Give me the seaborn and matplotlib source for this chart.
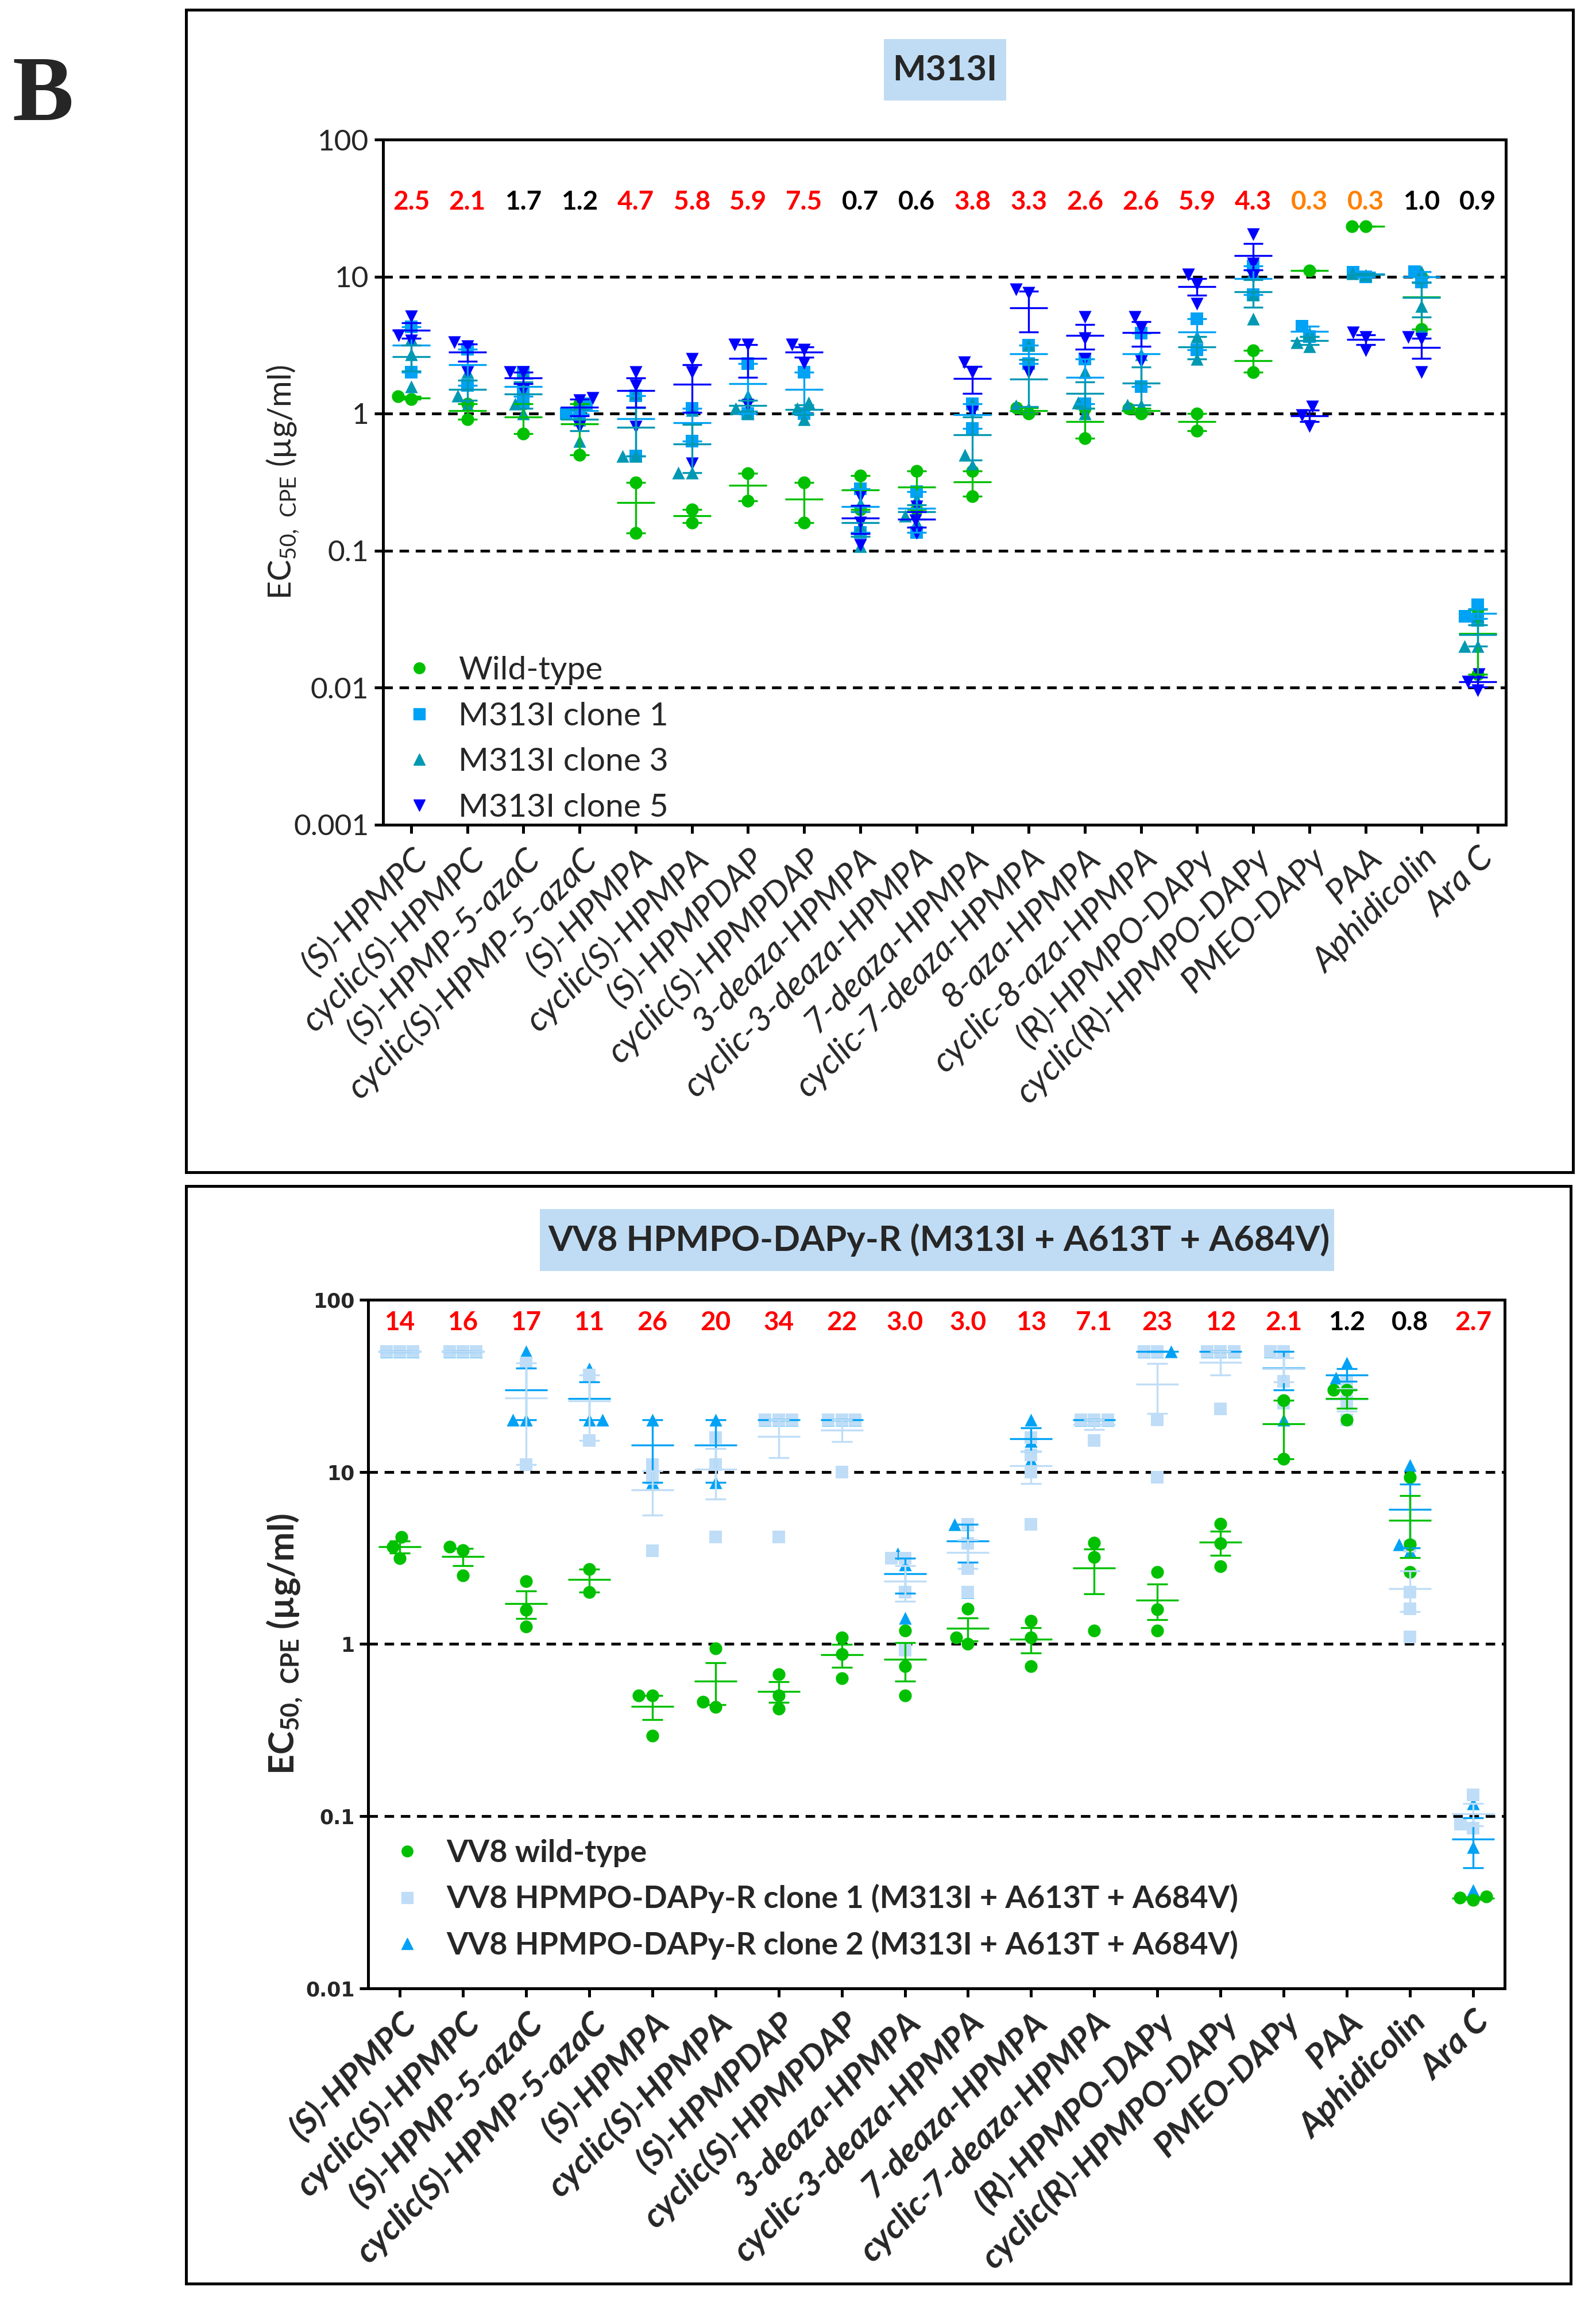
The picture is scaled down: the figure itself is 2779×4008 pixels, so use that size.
import numpy as np
import pandas as pd
import seaborn as sns
import matplotlib.pyplot as plt
from matplotlib.lines import Line2D
from matplotlib.patches import Rectangle
from matplotlib.ticker import NullLocator

# -----------------------------------
# DATA: panel 1 (M313I)
# -----------------------------------
top_drugs = ["(S)-HPMPC", "cyclic(S)-HPMPC", "(S)-HPMP-5-azaC", "cyclic(S)-HPMP-5-azaC",
             "(S)-HPMPA", "cyclic(S)-HPMPA", "(S)-HPMPDAP", "cyclic(S)-HPMPDAP",
             "3-deaza-HPMPA", "cyclic-3-deaza-HPMPA", "7-deaza-HPMPA", "cyclic-7-deaza-HPMPA",
             "8-aza-HPMPA", "cyclic-8-aza-HPMPA", "(R)-HPMPO-DAPy", "cyclic(R)-HPMPO-DAPy",
             "PMEO-DAPy", "PAA", "Aphidicolin", "Ara C"]
top_fold = ["2.5", "2.1", "1.7", "1.2", "4.7", "5.8", "5.9", "7.5", "0.7", "0.6",
            "3.8", "3.3", "2.6", "2.6", "5.9", "4.3", "0.3", "0.3", "1.0", "0.9"]
top_series = ["Wild-type", "M313I clone 1", "M313I clone 3", "M313I clone 5"]

top_wt = [[1.27, 1.33], [1.18, 0.91], [1.18, 0.71], [1.18, 0.50], [0.314, 0.134],
          [0.20, 0.16], [0.366, 0.23], [0.314, 0.16], [0.353, 0.20], [0.382, 0.20],
          [0.382, 0.249], [1.1, 1.0], [1.09, 0.66], [1.09, 1.0], [1.0, 0.745],
          [2.88, 2.0], [11.1], [23.2, 23.2], [10.0, 4.15], [0.037, 0.0125]]
top_c1 = [[4.28, 2.0], [2.96, 1.6], [2.0, 1.5, 1.2], [1.18, 1.0, 0.98], [1.35, 0.49],
          [1.09, 0.63], [2.31, 1.0], [2.0, 1.0], [0.282, 0.136], [0.27, 0.136],
          [1.18, 0.775], [3.14, 2.31], [2.5, 1.18], [3.86, 1.58], [4.93, 2.92],
          [11.9, 7.35], [4.35, 3.63], [10.8, 10.0], [10.9, 9.1], [0.04, 0.033, 0.031]]
top_c3 = [[3.5, 2.71, 1.58], [2.0, 1.16, 1.35], [2.0, 1.18, 1.0], [1.2, 0.9, 0.63],
          [1.4, 0.49, 0.49], [1.06, 0.37, 0.37], [1.35, 1.09, 1.0], [1.2, 1.09, 0.91],
          [0.22, 0.15, 0.108], [0.237, 0.18, 0.16], [1.18, 0.5, 0.42], [3.14, 1.15, 1.09],
          [2.0, 1.2, 1.0], [2.7, 1.16, 1.15], [3.63, 2.5], [10.9, 7.35, 4.93],
          [3.86, 3.3, 3.1], [10.5, 10.2], [10.9, 6.1, 4.15], [0.033, 0.02, 0.02]]
top_c5 = [[5.1, 3.7, 3.4], [3.3, 3.1, 2.0], [2.0, 2.0, 1.48], [1.3, 1.25, 0.8],
          [2.0, 1.6, 0.8], [2.5, 2.0, 0.43], [3.2, 3.2, 1.16], [3.2, 2.92, 2.34],
          [0.25, 0.16, 0.11], [0.21, 0.166, 0.134], [2.37, 2.0, 1.03], [8.06, 7.6, 2.0],
          [5.08, 3.55, 2.5], [5.08, 4.2, 2.4], [10.3, 8.8, 6.3], [20.3, 12.4, 10.0],
          [1.12, 0.97, 0.81], [3.9, 3.6, 2.9], [3.6, 3.5, 2.0], [0.0125, 0.011, 0.0095]]

# -----------------------------------
# DATA: panel 2 (VV8 HPMPO-DAPy-R)
# -----------------------------------
bot_drugs = ["(S)-HPMPC", "cyclic(S)-HPMPC", "(S)-HPMP-5-azaC", "cyclic(S)-HPMP-5-azaC",
             "(S)-HPMPA", "cyclic(S)-HPMPA", "(S)-HPMPDAP", "cyclic(S)-HPMPDAP",
             "3-deaza-HPMPA", "cyclic-3-deaza-HPMPA", "7-deaza-HPMPA", "cyclic-7-deaza-HPMPA",
             "(R)-HPMPO-DAPy", "cyclic(R)-HPMPO-DAPy", "PMEO-DAPy", "PAA", "Aphidicolin", "Ara C"]
bot_fold = ["14", "16", "17", "11", "26", "20", "34", "22", "3.0", "3.0",
            "13", "7.1", "23", "12", "2.1", "1.2", "0.8", "2.7"]
bot_series = ["VV8 wild-type",
              "VV8 HPMPO-DAPy-R clone 1 (M313I + A613T + A684V)",
              "VV8 HPMPO-DAPy-R clone 2 (M313I + A613T + A684V)"]

bot_wt = [[4.18, 3.66, 3.16], [3.66, 3.5, 2.5], [2.32, 1.58, 1.26], [2.73, 2.0],
          [0.503, 0.503, 0.292], [0.94, 0.46, 0.43], [0.665, 0.503, 0.42], [1.09, 0.87, 0.634],
          [1.2, 0.74, 0.503], [1.6, 1.09, 1.0], [1.36, 1.09, 0.74], [3.88, 3.19, 1.2],
          [2.62, 1.59, 1.2], [5.0, 3.85, 2.82], [26.0, 11.9], [30.0, 30.0, 20.0],
          [9.3, 3.8, 2.62], [0.034, 0.0335, 0.0325]]
bot_c1 = [[50, 50, 50], [50, 50, 50], [42.8, 11.0], [36.6, 15.2], [11.0, 9.16, 3.49],
          [15.8, 11.0, 4.18], [20, 20, 20, 4.18], [20, 20, 20, 10], [3.16, 3.16, 2.0, 0.92],
          [4.97, 3.85, 2.75, 2.0], [15.8, 12.6, 10.0, 4.97], [20, 20, 20, 15.2],
          [50, 50, 20, 9.3], [50, 50, 50, 23.2], [50, 50, 33.5, 25], [33.5, 25.6, 20],
          [3.7, 2.0, 1.6, 1.1], [0.133, 0.09, 0.085]]
bot_c2 = [[50, 50, 50], [50, 50, 50], [50, 20, 20], [39.8, 20, 20], [20, 8.7], [20, 8.7],
          [20, 20, 20], [20, 20, 20], [3.35, 2.9, 1.42], [4.97, 4.97, 2.0], [20, 15.1, 11.7],
          [20, 20, 20], [50, 50, 50], [50, 50, 50], [50, 50, 20], [42.8, 35.2, 32],
          [10.9, 3.8, 3.45], [0.118, 0.066, 0.037]]

# -----------------------------------
# STYLE
# -----------------------------------
W, H = 2779, 4008
sns.set_style("white")
plt.rcParams['font.family'] = ['Lato', 'DejaVu Sans']
plt.rcParams['axes.unicode_minus'] = False

top_colors = ["#00C000", "#00A2F5", "#0098B2", "#0000FF"]
top_markers = ["o", "s", "^", "v"]
bot_colors = ["#00C000", "#BFDDF7", "#00A2F5"]
bot_markers = ["o", "s", "^"]


def fold_color(s):
    v = float(s)
    if v >= 2:
        return "#FF0000"
    if v <= 0.3:
        return "#FF8000"
    return "black"


def long_df(drugs, series_names, series_vals):
    rows = []
    for name, vals in zip(series_names, series_vals):
        for drug, reps in zip(drugs, vals):
            for v in reps:
                rows.append({"drug": drug, "series": name, "ec50": v})
    return pd.DataFrame(rows)


def fig_xy(x, y):
    return x / W, 1 - y / H


def draw_panel(ax, df, drugs, names, colors, markers, draw_order, msize, mean_w, cap, lw):
    ax.set_yscale("log")
    pos = np.arange(len(drugs))
    for k in draw_order:
        name, c, m = names[k], colors[k], markers[k]
        d = df[df["series"] == name]
        sns.swarmplot(data=d, x="drug", y="ec50", order=drugs, color=c, marker=m,
                      size=msize, linewidth=0, ax=ax, zorder=3)
        # mean +/- SEM per drug
        st = d.groupby("drug")["ec50"].agg(["mean", "sem"]).reindex(drugs)
        ax.errorbar(pos, st["mean"], yerr=st["sem"].fillna(0), fmt="none", ecolor=c,
                    elinewidth=lw, capsize=cap, capthick=lw, zorder=4)
        ax.scatter(pos, st["mean"], marker="_", s=mean_w ** 2, color=c,
                   linewidths=lw, zorder=4)
    ax.set_xlim(-0.5, len(drugs) - 0.5)
    ax.set_xlabel("")
    for sp in ax.spines.values():
        sp.set_visible(True)
        sp.set_linewidth(3.6)
        sp.set_color("black")
    ax.yaxis.set_minor_locator(NullLocator())
    ax.tick_params(axis="both", which="major", direction="out", length=10.8, width=3.6,
                   color="black", left=True, bottom=True)


fig = plt.figure(figsize=(W / 100, H / 100), dpi=100)

# panel frames and title boxes
for (x0, y0, x1, y1) in [(324, 17, 2739, 2041), (324, 2065, 2735, 3976)]:
    fig.add_artist(Rectangle(fig_xy(x0, y1), (x1 - x0) / W, (y1 - y0) / H, fill=False,
                             edgecolor="black", linewidth=3.6, transform=fig.transFigure))
for (x0, y0, x1, y1) in [(1539, 68, 1752, 175), (940, 2105, 2323, 2213)]:
    fig.add_artist(Rectangle(fig_xy(x0, y1), (x1 - x0) / W, (y1 - y0) / H, facecolor="#C0DCF4",
                             edgecolor="none", transform=fig.transFigure))

fig.text(*fig_xy(21, 209), "B", fontsize=115, fontweight="bold",
         family="Liberation Serif", ha="left", va="baseline")
fig.text(*fig_xy(1645, 122), "M313I", fontsize=44, fontweight="bold", ha="center", va="center")
fig.text(*fig_xy(1635, 2159), "VV8 HPMPO-DAPy-R (M313I + A613T + A684V)", fontsize=44.5,
         fontweight="bold", ha="center", va="center")

# -----------------------------------
# TOP PANEL
# -----------------------------------
ax1 = fig.add_axes([667 / W, 1 - 1435.5 / H, (2622 - 667) / W, (1435.5 - 243) / H])
df_top = long_df(top_drugs, top_series, [top_wt, top_c1, top_c3, top_c5])
draw_panel(ax1, df_top, top_drugs, top_series, top_colors, top_markers, [0, 1, 2, 3],
           msize=16, mean_w=47, cap=12, lw=2.4)
ax1.set_ylim(0.001, 100)
ax1.set_yticks([0.001, 0.01, 0.1, 1, 10, 100])
ax1.set_yticklabels(["0.001", "0.01", "0.1", "1", "10", "100"], fontsize=37)
for g in [0.01, 0.1, 1, 10]:
    ax1.axhline(g, color="black", lw=3.5, ls=(0, (3.4, 2.4)), zorder=1)
ax1.set_xticks(range(len(top_drugs)))
ax1.set_xticklabels(top_drugs, rotation=45, ha="right", rotation_mode="anchor",
                    fontsize=43.5, fontstyle="italic")
ax1.tick_params(axis="x", pad=12)
ax1.tick_params(axis="y", pad=7)
for i, s in enumerate(top_fold):
    ax1.text(i, 35, s, ha="center", va="center", fontsize=33, fontweight="bold",
             color=fold_color(s))
ax1.set_ylabel(r"EC$_{\mathregular{50,\ CPE}}$ (µg/ml)", fontsize=40)
ax1.yaxis.set_label_coords(-0.0895, 0.5)
ax1.yaxis.label.set_verticalalignment("center")
h1 = [Line2D([], [], ls="", marker=m, color=c, markersize=14)
      for c, m in zip(top_colors, top_markers)]
ax1.legend(h1, top_series, loc="upper left", bbox_to_anchor=(0.009, 0.265),
           frameon=False, fontsize=41, handlelength=0.8, handletextpad=0.8,
           labelspacing=0.5, borderpad=0.4, borderaxespad=0)

# -----------------------------------
# BOTTOM PANEL
# -----------------------------------
ax2 = fig.add_axes([641 / W, 1 - 3461.5 / H, (2620 - 641) / W, (3461.5 - 2263) / H])
df_bot = long_df(bot_drugs, bot_series, [bot_wt, bot_c1, bot_c2])
draw_panel(ax2, df_bot, bot_drugs, bot_series, bot_colors, bot_markers, [2, 1, 0],
           msize=16, mean_w=53, cap=13, lw=2.4)
ax2.set_ylim(0.01, 100)
ax2.set_yticks([0.01, 0.1, 1, 10, 100])
ax2.set_yticklabels(["0.01", "0.1", "1", "10", "100"], fontsize=25, fontweight="bold",
                    family="DejaVu Sans")
for g in [0.1, 1, 10]:
    ax2.axhline(g, color="black", lw=3.5, ls=(0, (3.4, 2.4)), zorder=1)
ax2.set_xticks(range(len(bot_drugs)))
ax2.set_xticklabels(bot_drugs, rotation=45, ha="right", rotation_mode="anchor",
                    fontsize=43, fontstyle="italic", fontweight="bold")
ax2.tick_params(axis="x", pad=12)
ax2.tick_params(axis="y", pad=6)
for i, s in enumerate(bot_fold):
    ax2.text(i, 73.5, s, ha="center", va="center", fontsize=33, fontweight="bold",
             color=fold_color(s))
ax2.set_ylabel(r"EC$_{\mathregular{50,\ CPE}}$ (µg/ml)", fontsize=44, fontweight="bold")
ax2.yaxis.set_label_coords(-0.0733, 0.5)
ax2.yaxis.label.set_verticalalignment("center")
h2 = [Line2D([], [], ls="", marker=m, color=c, markersize=14)
      for c, m in zip(bot_colors, bot_markers)]
ax2.legend(h2, bot_series, loc="upper left", bbox_to_anchor=(0.0126, 0.235),
           frameon=False, prop={"size": 39, "weight": "bold"}, handlelength=0.8,
           handletextpad=0.85, labelspacing=0.55, borderpad=0.4, borderaxespad=0)

plt.savefig("out.png", dpi=100)
